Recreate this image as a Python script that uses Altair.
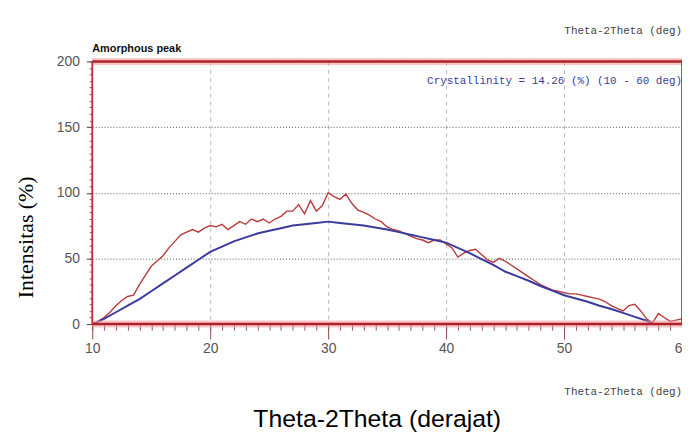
import altair as alt
import pandas as pd

# ---- data ----
red_x = [10.0, 10.5, 11.0, 11.5, 12.0, 12.5, 13.0, 13.5, 14.0, 14.5, 15.0, 15.5, 16.0, 16.5,
         17.0, 17.5, 18.0, 18.5, 19.0, 19.5, 20.0, 20.5, 21.0, 21.5, 22.0, 22.5, 23.0, 23.5,
         24.0, 24.5, 25.0, 25.5, 26.0, 26.5, 27.0, 27.5, 28.0, 28.5, 29.0, 29.5, 30.0, 30.5,
         31.0, 31.5, 32.0, 32.5, 33.0, 33.5, 34.0, 34.5, 35.0, 35.5, 36.0, 36.5, 37.0, 37.5,
         38.0, 38.5, 39.0, 39.5, 40.0, 40.5, 41.0, 41.5, 42.0, 42.5, 43.0, 43.5, 44.0, 44.5,
         45.0, 45.5, 46.0, 46.5, 47.0, 47.5, 48.0, 48.5, 49.0, 49.5, 50.0, 50.5, 51.0, 51.5,
         52.0, 52.5, 53.0, 53.5, 54.0, 54.5, 55.0, 55.5, 56.0, 56.5, 57.0, 57.5, 58.0, 58.5,
         59.0, 59.5, 60.0]
red_y = [0, 2, 5, 9, 14, 18, 21, 22, 30, 37, 44, 48, 52, 58,
         63, 68, 70, 72, 70, 73, 75, 74, 76, 72, 75, 78, 76, 80,
         78, 80, 77, 80, 82, 86, 86, 91, 84, 94, 86, 90, 100, 97,
         95, 99, 92, 87, 85, 83, 80, 78, 74, 72, 71, 69, 67, 65,
         64, 62, 64, 64, 61, 58, 51, 54, 56, 57, 53, 49, 47, 50,
         48, 45, 42, 39, 36, 33, 30, 28, 26, 25, 24, 23, 23, 22,
         21, 20, 19, 17, 14, 12, 10, 14, 15, 10, 4, 1, 8, 5,
         2, 3, 4]

blue_x = [10, 11, 12, 13, 14, 15, 16, 17, 18, 19, 20, 21, 22, 23, 24, 25, 26, 27, 28, 29,
          30, 31, 32, 33, 34, 35, 36, 37, 38, 39, 40, 41, 42, 43, 44, 45, 46, 47, 48, 49,
          50, 51, 52, 53, 54, 55, 56, 57, 57.5]
blue_y = [0, 4, 9, 14, 19, 25, 31, 37, 43, 49, 55, 59, 63, 66, 69, 71, 73, 75, 76, 77,
          78, 77, 76, 75, 73.5, 72, 70, 68, 66, 64, 62, 58, 54, 49.5, 45, 40, 36.5, 33, 29, 25.5,
          22, 19.5, 17, 14, 11.5, 8.5, 5.5, 2.5, 0.5]

x_major = [10, 20, 30, 40, 50, 60]
y_major = [0, 50, 100, 150, 200]
x_minor = [v for v in range(10, 61)]
y_minor = [v for v in range(0, 201, 5)]

border_y = [0, 200]
border_x = [10, 60]

label_amorphous = "Amorphous peak"
label_deg = "Theta-2Theta (deg)"
label_cryst = "Crystallinity = 14.26 (%) (10 - 60 deg)"
x_title = "Theta-2Theta (derajat)"
y_title = "Intensitas (%)"

# ---- styling ----
LABEL = "Liberation Sans"
MONO = "Liberation Mono"
W, H = 595, 265

red_df = pd.DataFrame({"theta": red_x, "intensity": red_y})
blue_df = pd.DataFrame({"theta": blue_x, "intensity": blue_y})

xs = alt.Scale(domain=[10, 60], nice=False, zero=False)
ys = alt.Scale(domain=[0, 200], nice=False, zero=True)

main_x_axis = alt.Axis(values=x_major, grid=True, gridColor="#b8b8b8", gridDash=[4, 4],
                       domain=False, tickColor="#8b4a4a", tickSize=15, tickWidth=1,
                       labelFont=LABEL, labelFontSize=14, labelColor="#555555",
                       labelPadding=3, labelFlush=False, orient="bottom",
                       title=x_title, titleFont="Liberation Sans", titleFontSize=25,
                       titleFontWeight="normal", titleColor="#000000",
                       titleX=287, titleY=103, titleBaseline="alphabetic", titleAlign="center")
main_y_axis = alt.Axis(values=y_major, grid=True, gridColor="#555555", gridDash=[1, 2],
                       domain=False, tickColor="#444444", tickSize=6, tickWidth=1,
                       labelFont=LABEL, labelFontSize=14, labelColor="#555555",
                       labelPadding=7, labelFlush=False, orient="left",
                       title=y_title, titleFont="Liberation Serif", titleFontSize=22,
                       titleFontWeight="normal", titleColor="#000000",
                       titleX=-60, titleY=177, titleBaseline="alphabetic", titleAlign="center",
                       titleAngle=270)

minor_x_axis = alt.Axis(values=x_minor, grid=False, domain=False, labels=False,
                        tickColor="#9a4a4a", tickSize=6, tickWidth=1, title=None, orient="bottom")
minor_y_axis = alt.Axis(values=y_minor, grid=False, domain=False, labels=False,
                        tickColor="#9a4a4a", tickSize=3, tickWidth=1, title=None, orient="left")

red_line = alt.Chart(red_df).mark_line(color="#b83a3a", strokeWidth=1.4).encode(
    x=alt.X("theta:Q", scale=xs, axis=main_x_axis),
    y=alt.Y("intensity:Q", scale=ys, axis=main_y_axis),
)
blue_line = alt.Chart(blue_df).mark_line(color="#3b3b9e", strokeWidth=2).encode(
    x=alt.X("theta:Q", scale=xs, axis=minor_x_axis),
    y=alt.Y("intensity:Q", scale=ys, axis=minor_y_axis),
)

hb_df = pd.DataFrame({"b": border_y})
vb_df = pd.DataFrame({"b": border_x})
h_glow = alt.Chart(hb_df).mark_rule(color="#f2a0a0", strokeWidth=7, opacity=0.6).encode(
    y=alt.Y("b:Q", scale=ys, axis=None))
h_line = alt.Chart(hb_df).mark_rule(color="#b0202a", strokeWidth=2.5).encode(
    y=alt.Y("b:Q", scale=ys, axis=None))
v_line = alt.Chart(vb_df).mark_rule(color="#c0303a", strokeWidth=1.8).encode(
    x=alt.X("b:Q", scale=xs, axis=None))

one = pd.DataFrame({"k": [0]})
t_amorph = alt.Chart(one).mark_text(font=LABEL, fontSize=11, fontWeight="bold", color="#111111",
                                    align="left", baseline="alphabetic").encode(
    x=alt.value(0), y=alt.value(-10), text=alt.value(label_amorphous))
t_top = alt.Chart(one).mark_text(font=MONO, fontSize=11, color="#444444",
                                 align="right", baseline="alphabetic").encode(
    x=alt.value(W), y=alt.value(-28), text=alt.value(label_deg))
t_bot = alt.Chart(one).mark_text(font=MONO, fontSize=11, color="#444444",
                                 align="right", baseline="alphabetic").encode(
    x=alt.value(W), y=alt.value(337), text=alt.value(label_deg))
t_cry = alt.Chart(one).mark_text(font=MONO, fontSize=11, color="#3c3ca0",
                                 align="right", baseline="alphabetic").encode(
    x=alt.value(W), y=alt.value(23), text=alt.value(label_cryst))

chart = alt.layer(
    red_line, blue_line, h_glow, h_line, v_line, t_amorph, t_top, t_bot, t_cry
).resolve_axis(x="independent", y="independent").properties(
    width=W, height=H,
    autosize=alt.AutoSizeParams(type="none"),
    padding={"left": 85, "top": 52, "right": 0, "bottom": 108},
    background="white",
).configure_view(strokeWidth=0)

chart.save("out.html", embed_options={"renderer": "svg", "actions": False})
